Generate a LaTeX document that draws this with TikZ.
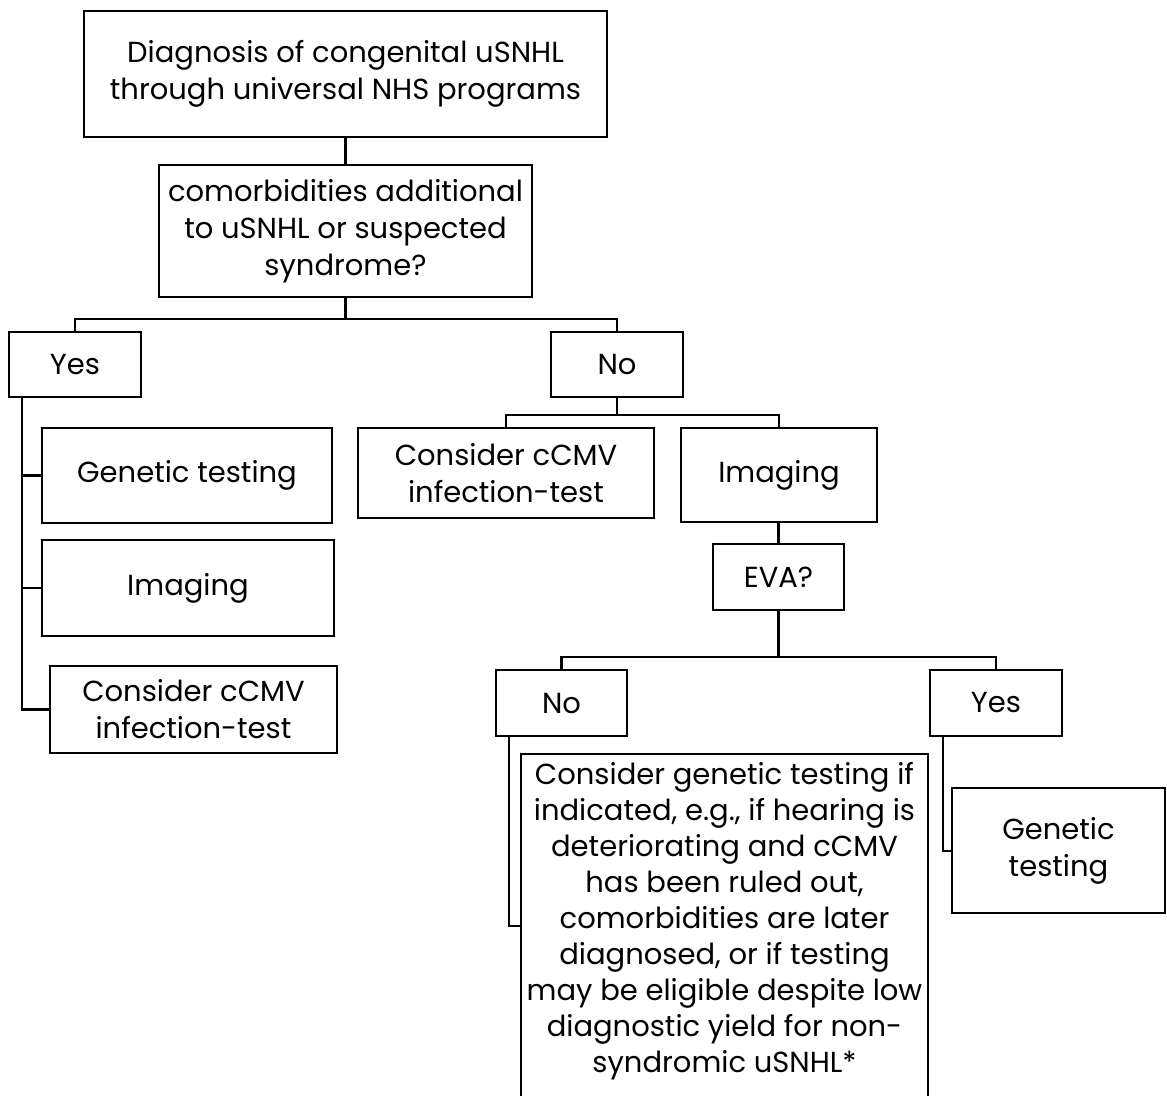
\documentclass[tikz,border=0pt]{standalone}
\usepackage{fontspec}
\setmainfont{Poppins}
\begin{document}
\begin{tikzpicture}[x=1pt,y=-1pt,
  box/.style={draw,line width=2.2pt,rectangle,inner sep=0pt,align=center,
    font=\fontsize{29}{37}\selectfont},
  conn/.style={line width=2.2pt}]
\useasboundingbox (0,0) rectangle (1167,1095);
\clip (0,0) rectangle (1167,1095);
\node[box,minimum width=523,minimum height=126] (top) at (345.5,74)
  {Diagnosis of congenital uSNHL\\through universal NHS programs};
\node[box,minimum width=373,minimum height=132] (q1) at (345.5,231)
  {comorbidities additional\\to uSNHL or suspected\\syndrome?};
\node[box,minimum width=132,minimum height=65] (yes1) at (75,364.5) {Yes};
\node[box,minimum width=132,minimum height=65] (no1) at (617,364.5) {No};
\node[box,minimum width=290,minimum height=95] (gen1) at (187,475.5) {Genetic testing};
\node[box,minimum width=292,minimum height=96] (img1) at (188,588) {Imaging};
\node[box,minimum width=287,minimum height=87] (cmv1) at (193.5,709.5)
  {Consider cCMV\\infection-test};
\node[box,minimum width=296,minimum height=90] (cmv2) at (506,473)
  {Consider cCMV\\infection-test};
\node[box,minimum width=196,minimum height=94] (img2) at (779,475) {Imaging};
\node[box,minimum width=131,minimum height=66] (eva) at (778.5,577) {EVA?};
\node[box,minimum width=131,minimum height=66] (no2) at (561.5,703) {No};
\node[box,minimum width=132,minimum height=66] (yes2) at (996,703) {Yes};
\node[box,minimum width=407,minimum height=380,anchor=north] (long) at (724.5,753) {};
\node[align=center,anchor=north,inner sep=0pt,font=\fontsize{29}{36}\selectfont]
  (longtxt) at ([yshift=-9]long.north)
  {Consider genetic testing if\\indicated, e.g., if hearing is\\deteriorating and cCMV\\has been ruled out,\\comorbidities are later\\diagnosed, or if testing\\may be eligible despite low\\diagnostic yield for non-\\syndromic uSNHL*};
\node[box,minimum width=213,minimum height=125] (gen2) at (1058.5,850.5)
  {Genetic\\testing};
% connectors
\draw[conn] (top.south) -- (q1.north);
\draw[conn] (q1.south) -- ++(0,21) coordinate (h1);
\draw[conn] (yes1.north) |- (h1) -| (no1.north);
\draw[conn] (yes1.south -| 22,0) -- (22,709.5) -- (cmv1.west);
\draw[conn] (22,475.5) -- (gen1.west);
\draw[conn] (22,588) -- (img1.west);
\draw[conn] (no1.south) -- ++(0,17) coordinate (h2);
\draw[conn] (cmv2.north) |- (h2) -| (img2.north);
\draw[conn] (img2.south -| eva.north) -- (eva.north);
\draw[conn] (eva.south) -- ++(0,46) coordinate (h3);
\draw[conn] (no2.north) |- (h3) -| (yes2.north);
\draw[conn] (no2.south -| 509,0) -- (509,926) -- (509,926 -| long.west);
\draw[conn] (yes2.south -| 943,0) -- (943,851) -- (gen2.west |- 0,851);
\end{tikzpicture}
\end{document}
